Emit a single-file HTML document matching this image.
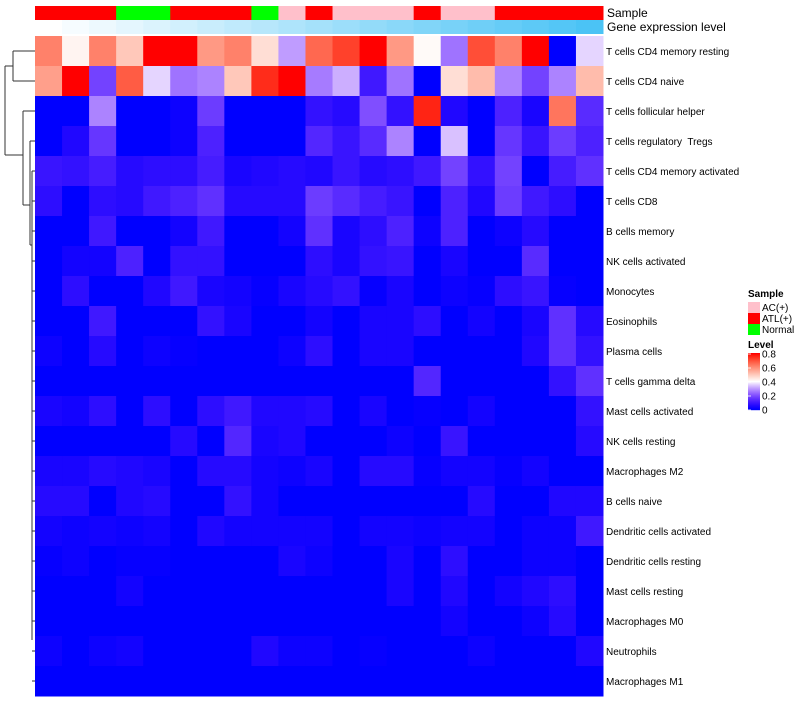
<!DOCTYPE html>
<html><head><meta charset="utf-8"><style>
body{margin:0;background:#fff;}
svg text{font-family:"Liberation Sans",sans-serif;white-space:pre;}
</style></head><body>
<svg id="chart" width="800" height="700" xmlns="http://www.w3.org/2000/svg"></svg>
<script>
const rowNames=["T cells CD4 memory resting","T cells CD4 naive","T cells follicular helper","T cells regulatory  Tregs","T cells CD4 memory activated","T cells CD8","B cells memory","NK cells activated","Monocytes","Eosinophils","Plasma cells","T cells gamma delta","Mast cells activated","NK cells resting","Macrophages M2","B cells naive","Dendritic cells activated","Dendritic cells resting","Mast cells resting","Macrophages M0","Neutrophils","Macrophages M1"];
const sampleGroups=["ATL","ATL","ATL","N","N","ATL","ATL","ATL","N","AC","ATL","AC","AC","AC","ATL","AC","AC","ATL","ATL","ATL","ATL"];
const expressionLevel=[0,0.05,0.1,0.15,0.2,0.25,0.3,0.35,0.4,0.45,0.5,0.55,0.6,0.65,0.7,0.75,0.8,0.85,0.9,0.95,1];
const values=[
[0.62,0.42,0.62,0.5,0.8,0.8,0.58,0.62,0.46,0.3,0.66,0.72,0.8,0.58,0.41,0.25,0.7,0.62,0.8,0,0.36],
[0.57,0.8,0.18,0.68,0.36,0.25,0.27,0.5,0.75,0.8,0.26,0.32,0.1,0.25,0,0.46,0.52,0.27,0.18,0.27,0.52],
[0,0,0.27,0,0,0.02,0.17,0,0,0,0.08,0.06,0.2,0.08,0.76,0.05,0,0.12,0.04,0.64,0.14],
[0,0.05,0.16,0,0,0.02,0.12,0,0,0,0.13,0.09,0.14,0.27,0,0.34,0,0.16,0.09,0.17,0.12],
[0.09,0.08,0.11,0.06,0.07,0.07,0.11,0.04,0.05,0.06,0.05,0.09,0.06,0.07,0.1,0.18,0.08,0.18,0,0.11,0.15],
[0.07,0,0.07,0.06,0.1,0.12,0.15,0.06,0.06,0.06,0.17,0.14,0.11,0.09,0,0.12,0.05,0.17,0.1,0.07,0],
[0,0,0.1,0,0,0.03,0.1,0,0,0.03,0.15,0.04,0.07,0.12,0.02,0.12,0,0.02,0.06,0,0],
[0,0.03,0.03,0.12,0,0.08,0.08,0,0,0,0.07,0.04,0.08,0.09,0,0.04,0,0,0.14,0,0],
[0,0.07,0,0,0.05,0.1,0.04,0.03,0.01,0.04,0.06,0.08,0.01,0.04,0,0.02,0.01,0.07,0.09,0.01,0],
[0,0,0.1,0,0,0,0.08,0.04,0,0,0.03,0,0.04,0.04,0.07,0,0.03,0,0.04,0.15,0.06],
[0.02,0,0.06,0,0.02,0.01,0,0,0,0.02,0.07,0,0.04,0.04,0,0,0,0,0.05,0.15,0.08],
[0,0,0,0,0,0,0,0,0,0,0,0,0,0,0.13,0,0,0,0,0.08,0.15],
[0.04,0.03,0.07,0,0.07,0,0.07,0.1,0.05,0.05,0.06,0,0.04,0,0.01,0,0.03,0,0,0,0.08],
[0,0,0,0,0,0.06,0,0.13,0.04,0.05,0,0,0,0.02,0,0.09,0,0,0,0,0.06],
[0.04,0.04,0.06,0.05,0.04,0,0.06,0.06,0.03,0.02,0.04,0,0.06,0.06,0.01,0.03,0.03,0.01,0.03,0,0],
[0.06,0.06,0,0.05,0.06,0,0,0.08,0.03,0,0,0,0,0,0,0,0.06,0,0,0.05,0.05],
[0.03,0.02,0.03,0.02,0.03,0,0.05,0.03,0.03,0.03,0.03,0,0.03,0.03,0.02,0.03,0.03,0,0.02,0.02,0.1],
[0.01,0.02,0,0.01,0.01,0,0,0,0,0.04,0.02,0,0,0.04,0,0.07,0,0,0.02,0.02,0],
[0,0,0,0.03,0,0,0,0,0,0,0,0,0,0.04,0,0.05,0,0.03,0.05,0.07,0],
[0,0,0,0,0,0,0,0,0,0,0,0,0,0,0,0.03,0,0,0.02,0.06,0],
[0.02,0,0.02,0.03,0,0,0,0,0.05,0.02,0.02,0,0.01,0,0,0,0.02,0,0,0,0.05],
[0,0,0,0,0,0,0,0,0,0,0,0,0,0,0,0,0,0,0,0,0]
];
const legendTicks=[0,0.2,0.4,0.6,0.8];

const NS="http://www.w3.org/2000/svg";
const svg=document.getElementById("chart");
const X0=35,X1=603,Y0=36,Y1=696;
const nC=values[0].length,nR=values.length;
const cw=(X1-X0)/nC,rh=(Y1-Y0)/nR;
const xPos=c=>X0+c*cw;
const yPos=r=>Y0+r*rh;
function color(v){
  v=Math.max(0,Math.min(0.8,v));
  let r,g,b;
  if(v<=0.4){const t=v/0.4;r=255*t;g=255*Math.pow(t,1.7);b=255;}
  else{const s=(v-0.4)/0.4;r=255;g=255*Math.pow(1-s,0.85);b=255*Math.pow(1-s,1.1);}
  return `rgb(${Math.round(r)},${Math.round(g)},${Math.round(b)})`;
}
function el(tag,attrs){const e=document.createElementNS(NS,tag);for(const k in attrs)e.setAttribute(k,attrs[k]);svg.appendChild(e);return e;}
const sampleColor={ATL:"#ff0000",N:"#00ff00",AC:"#ffc0cb"};
function levelColor(t){return `rgb(${Math.round(255-(255-75)*t)},${Math.round(255-(255-195)*t)},${Math.round(255-(255-245)*t)})`;}
for(let c=0;c<nC;c++){
  const a=el("rect",{x:xPos(c),y:6,width:cw+0.5,height:14,fill:sampleColor[sampleGroups[c]]});
  
  
  const b=el("rect",{x:xPos(c),y:20,width:cw+0.5,height:14,fill:levelColor(expressionLevel[c])});
  
  
}
let t=el("text",{x:607,y:17,"font-size":12,fill:"#000"});t.textContent="Sample";

t=el("text",{x:607,y:31,"font-size":12,fill:"#000"});t.textContent="Gene expression level";

for(let r=0;r<nR;r++){
  for(let c=0;c<nC;c++){
    const e=el("rect",{x:xPos(c),y:yPos(r),width:cw+0.5,height:rh+0.5,fill:color(values[r][c])});
    
    
  }
  const l=el("text",{x:606,y:yPos(r)+rh/2+4,"font-size":10,fill:"#000"});
  l.textContent=rowNames[r];
  
  
}
const yc=r=>yPos(r)+rh/2;
const dend=[
 [13,yc(0),13,yc(1)],[13,yc(0),35,yc(0)],[13,yc(1),35,yc(1)],
 [5,66,5,155],[5,66,13,66],[5,155,23,155],
 [23,yc(2),23,205],[23,yc(2),35,yc(2)],[23,205,30,205],
 [30,yc(3),30,245],[30,yc(3),35,yc(3)],[30,245,32,245],
 [32,yc(4),32,640],[32,yc(4),35,yc(4)]
];
for(let r=5;r<nR;r++)dend.push([32,yc(r),35,yc(r)]);
dend.forEach(d=>{const ln=el("line",{x1:d[0],y1:d[1],x2:d[2],y2:d[3],stroke:"#333","stroke-width":1});
 });
t=el("text",{x:748,y:297,"font-size":10,"font-weight":"bold",fill:"#000"});t.textContent="Sample";

[["AC(+)","#ffc0cb"],["ATL(+)","#ff0000"],["Normal","#00ff00"]].forEach((s,i)=>{
  const r=el("rect",{x:748,y:302+i*11,width:12,height:11,fill:s[1]});
  
  const tx=el("text",{x:762,y:311+i*11,"font-size":10,fill:"#000"});tx.textContent=s[0];
  
});
t=el("text",{x:748,y:348,"font-size":10,"font-weight":"bold",fill:"#000"});t.textContent="Level";

const lb0=353,lb1=410;
for(let i=0;i<57;i++){
  const v=0.8*(1-i/56);
  const r=el("rect",{x:748,y:lb0+i,width:12,height:1.2,fill:color(v)});
  
}
legendTicks.forEach(v=>{
  const y=lb1-(v/0.8)*(lb1-lb0-1);
  const ln=el("line",{x1:748,x2:751,y1:y,y2:y,stroke:"#fff","stroke-width":0.8});
  
  const tx=el("text",{x:762,y:y+3.5,"font-size":10,fill:"#000"});tx.textContent=v;
  
});
</script>
</body></html>
